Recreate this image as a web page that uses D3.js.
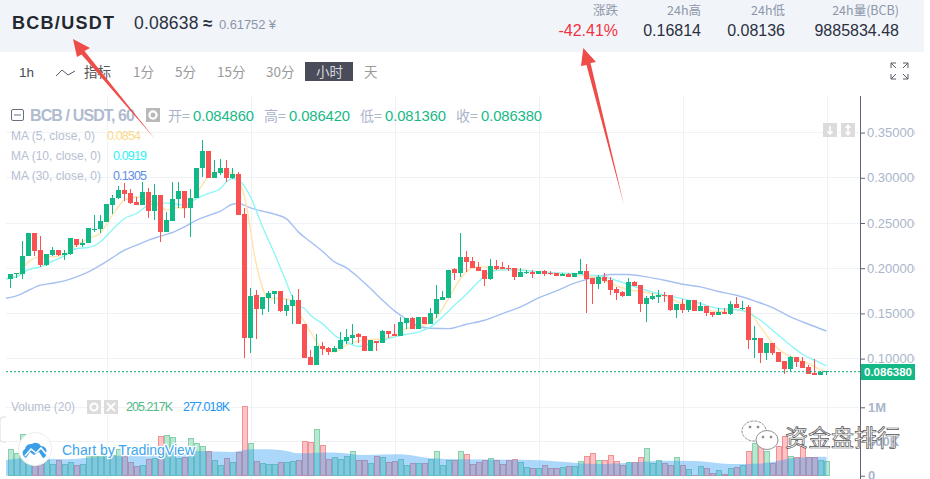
<!DOCTYPE html>
<html><head><meta charset="utf-8">
<script src="https://cdn.jsdelivr.net/npm/d3@7/dist/d3.min.js"></script>
<style>html,body{margin:0;padding:0;background:#fff;overflow:hidden}svg{display:block}text{font-family:"Liberation Sans",Arial,sans-serif}</style>
</head><body><svg id="c" width="930" height="479"></svg>
<script>
// ---- data ----
const opens=[.1882,.1937,.1937,.2140,.2384,.2196,.2033,.2144,.2196,.2151,
.2155,.2328,.2255,.2280,.2432,.2432,.2513,.2697,.2775,.2860,
.2830,.2731,.2697,.2841,.2631,.2808,.2399,.2524,.2764,.2852,
.2664,.2775,.3107,.3295,.3000,.3055,.3107,.2996,.3041,.2598,
.1225,.1701,.1546,.1668,.1716,.1745,.1524,.1579,.1646,.1387,
.1015,.0926,.1137,.1114,.1070,.1103,.1192,.1225,.1269,.1247,
.1081,.1199,.1170,.1303,.1277,.1255,.1391,.1446,.1325,.1458,
.1380,.1491,.1646,.1668,.1989,.1945,.2122,.2077,.2011,.1978,
.1878,.2022,.2011,.2007,.2000,.1900,.1948,.1956,.1934,.1967,
.1952,.1945,.1911,.1934,.1900,.1934,.1967,.1889,.1823,.1900,
.1867,.1768,.1734,.1690,.1845,.1812,.1601,.1657,.1679,.1701,
.1701,.1535,.1601,.1535,.1646,.1524,.1579,.1513,.1480,.1513,
.1491,.1601,.1557,.1568,.1203,.1225,.1059,.1170,.1070,.0970,
.0882,.1015,.0970,.0904,.0838,.0816,.08486];
const highs=[.1941,.1945,.2299,.2384,.2384,.2354,.2162,.2229,.2196,.2196,
.2339,.2328,.2328,.2450,.2590,.2590,.2708,.2808,.2908,.2937,
.2878,.2790,.2952,.2882,.2930,.2808,.2627,.2956,.2956,.2852,
.2871,.3107,.3417,.3295,.3196,.3203,.3196,.3111,.3066,.2661,
.1782,.1756,.1679,.1745,.1745,.1745,.1664,.1701,.1775,.1387,
.1100,.1277,.1181,.1129,.1144,.1299,.1325,.1380,.1284,.1247,
.1203,.1199,.1314,.1303,.1380,.1458,.1446,.1458,.1458,.1458,
.1557,.1812,.1745,.1985,.2004,.2387,.2188,.2122,.2066,.1978,
.2100,.2089,.2066,.2033,.2000,.2000,.1978,.1978,.1967,.1978,
.1967,.1945,.1945,.1945,.1945,.2100,.2044,.1889,.1923,.1945,
.1900,.1790,.1745,.1889,.1856,.1812,.1690,.1723,.1756,.1734,
.1701,.1601,.1657,.1646,.1646,.1624,.1579,.1513,.1557,.1557,
.1635,.1679,.1635,.1590,.1358,.1225,.1170,.1170,.1070,.0970,
.1026,.1015,.1015,.0926,.0993,.0860,.08642];
const lows=[.1786,.1897,.1886,.2140,.2140,.2011,.2026,.2133,.2133,.2092,
.2144,.2229,.2229,.2277,.2402,.2391,.2513,.2605,.2771,.2738,
.2712,.2697,.2697,.2550,.2531,.2288,.2399,.2524,.2661,.2550,
.2343,.2775,.3011,.2996,.3000,.3026,.2956,.2982,.2587,.1004,
.1059,.1214,.1480,.1517,.1601,.1517,.1469,.1380,.1380,.1007,
.0926,.0926,.1037,.1041,.1070,.1103,.1159,.1159,.1173,.1081,
.1081,.1081,.1170,.1225,.1247,.1255,.1325,.1325,.1325,.1380,
.1380,.1446,.1646,.1668,.1867,.1900,.1963,.2000,.1967,.1801,
.1867,.1978,.1989,.1967,.1867,.1900,.1934,.1889,.1934,.1911,
.1923,.1911,.1911,.1900,.1900,.1934,.1502,.1601,.1768,.1834,
.1701,.1646,.1679,.1690,.1801,.1513,.1402,.1646,.1613,.1624,
.1524,.1446,.1502,.1513,.1524,.1524,.1469,.1458,.1480,.1491,
.1480,.1557,.1535,.1103,.1004,.0948,.0982,.1037,.0959,.0827,
.0860,.0904,.0893,.0827,.0816,.0816,.08136];
const closes=[.1941,.1945,.2140,.2384,.2192,.2033,.2155,.2196,.2148,.2166,
.2332,.2255,.2284,.2443,.2439,.2520,.2708,.2782,.2860,.2819,
.2723,.2697,.2841,.2631,.2808,.2402,.2531,.2771,.2852,.2664,
.2782,.3107,.3295,.2996,.3066,.3107,.2996,.3041,.2587,.1225,
.1697,.1546,.1679,.1723,.1745,.1524,.1590,.1646,.1380,.1007,
.0926,.1137,.1103,.1070,.1114,.1203,.1236,.1266,.1236,.1081,
.1203,.1170,.1303,.1269,.1255,.1402,.1446,.1325,.1458,.1380,
.1502,.1657,.1679,.1985,.1945,.2122,.2066,.2000,.1967,.1878,
.2022,.1996,.1989,.1989,.1900,.1956,.1956,.1934,.1967,.1934,
.1934,.1911,.1934,.1900,.1945,.1967,.1878,.1823,.1900,.1856,
.1756,.1723,.1690,.1845,.1801,.1601,.1668,.1690,.1701,.1694,
.1535,.1601,.1535,.1646,.1524,.1579,.1502,.1480,.1513,.1491,
.1601,.1557,.1565,.1203,.1225,.1059,.1170,.1059,.0959,.0882,
.1015,.0959,.0893,.0827,.0816,.0849,.08638];
const volumes=[385,327,605,254,205,161,229,171,229,171,
195,151,171,278,288,278,288,298,376,278,
195,137,151,244,254,576,590,561,254,263,
546,473,424,351,229,146,254,195,341,1015,
473,210,180,171,166,195,195,210,229,498,
488,678,444,239,268,239,288,356,229,229,
180,288,268,200,210,239,151,180,180,180,
239,356,156,229,229,356,312,171,200,229,
254,215,171,215,244,200,122,107,107,151,
98,112,122,141,137,210,288,327,229,224,
298,210,156,195,190,268,400,180,224,180,
156,268,156,93,10,137,98,34,78,20,
107,127,151,356,473,424,351,180,434,580,
288,268,424,268,259,229,205.217];
const ma5Idx=[-1,1,2,3,5,7,9,11,13,15,17,19,21,23,25,26,28,29,31,33,35,37,38,39,41,43,45,47,48,49,50,52,54,56,58,60,62,64,66,68,71,73,75,77,79,81,84,88,92,94,96,98,100,103,106,109,112,115,118,121,123,125,127,129,131,133,135,136];
const ma5=[.1882,.1911,.1996,.2070,.2125,.2125,.2155,.2255,.2328,.2391,.2587,.2753,.2790,.2753,.2686,.2642,.2672,.2661,.2827,.3011,.3077,.3048,.2974,.2790,.2033,.1664,.1664,.1646,.1517,.1406,.1295,.1111,.1074,.1148,.1196,.1210,.1221,.1258,.1332,.1351,.1461,.1664,.1886,.2004,.2015,.1978,.1989,.1959,.1941,.1934,.1911,.1897,.1830,.1764,.1731,.1694,.1609,.1565,.1517,.1542,.1517,.1351,.1173,.1055,.1000,.0945,.0878,.0854];
const ma10Idx=[-1,1,3,5,7,9,11,13,15,17,19,21,23,25,27,29,31,33,35,36,37,38,40,42,44,46,47,48,49,50,52,54,56,58,60,62,64,66,68,70,72,74,76,78,80,82,85,88,91,94,96,98,100,103,106,109,112,115,118,121,123,125,128,130,132,134,136];
const ma10=[.1878,.1904,.1985,.2015,.2077,.2137,.2218,.2229,.2292,.2428,.2550,.2605,.2697,.2723,.2716,.2697,.2771,.2827,.2882,.2956,.2993,.2974,.2790,.2458,.2162,.1840,.1680,.1579,.1554,.1480,.1387,.1258,.1185,.1133,.1166,.1203,.1240,.1269,.1292,.1351,.1461,.1590,.1712,.1849,.1959,.1982,.1978,.1959,.1948,.1941,.1926,.1919,.1886,.1819,.1756,.1701,.1664,.1609,.1554,.1542,.1509,.1424,.1258,.1148,.1048,.0982,.0919];
const ma30Idx=[-1,1,3,5,7,9,11,13,15,17,19,21,23,25,27,29,31,33,35,37,38,40,42,44,46,48,50,52,54,56,58,60,62,64,66,68,70,73,76,79,82,85,88,91,94,96,98,100,103,106,109,112,115,118,121,124,127,130,133,136];
const ma30=[.1664,.1694,.1756,.1812,.1834,.1860,.1904,.1959,.2033,.2118,.2199,.2255,.2310,.2354,.2395,.2458,.2531,.2583,.2631,.2708,.2716,.2668,.2631,.2598,.2546,.2399,.2292,.2188,.2070,.2004,.1897,.1775,.1646,.1528,.1435,.1358,.1336,.1332,.1380,.1424,.1498,.1572,.1672,.1749,.1835,.1875,.1911,.1930,.1930,.1904,.1867,.1823,.1793,.1742,.1701,.1638,.1565,.1461,.1380,.1305];
const volMaIdx=[-1,3,9,15,21,26,31,37,40,43,46,48,51,54,59,65,70,75,87,92,98,103,109,114,120,125,131,136];
const volMa=[229,254,239,278,302,337,361,346,385,385,361,327,337,341,302,312,254,239,229,205,171,190,220,215,171,180,263,277.018];
const priceTicks=[.10,.15,.20,.25,.30,.35];
const volTicks=[0,500,1000];
const lastPrice=.08638;
const timeGridIdx=[16,40,64,88,112,136];
const intervals=["1分","5分","15分","30分","小时","天"];
const legendOHLC=[["开=","0.084860"],["高=","0.086420"],["低=","0.081360"],["收=","0.086380"]];
const maLegend=[["MA (5, close, 0)","0.0854","#fcd98a"],["MA (10, close, 0)","0.0919","#2ff2f2"],["MA (30, close, 0)","0.1305","#5f8fe6"]];
const stats=[["涨跌","-42.41%"],["24h高","0.16814"],["24h低","0.08136"],["24h量(BCB)","9885834.48"]];

// ---- scales ----
const UP="#12b886",DOWN="#fa5252",GRID="#f0f2f5",AXIS="#5d6478",LABEL="#aab5ca";
const x=d3.scaleLinear().domain([0,136]).range([10.5,826.5]);
const y=d3.scaleLinear().domain([.10,.35]).range([358.6,132.6]);
const yv=d3.scaleLinear().domain([0,1000]).range([475.7,407.3]);
const svg=d3.select("#c");
const T=(s,tx,ty,o={})=>{const t=svg.append("text").attr("x",tx).attr("y",ty).text(s)
 .attr("font-size",o.size||13).attr("fill",o.fill||"#333");
 if(o.anchor)t.attr("text-anchor",o.anchor);if(o.weight)t.attr("font-weight",o.weight);
 if(o.family)t.style("font-family",o.family);if(o.ls)t.attr("letter-spacing",o.ls);return t;};
const CJK='"Noto Sans CJK SC","Liberation Sans",sans-serif';
const defs=svg.append("defs");
defs.append("clipPath").attr("id","plot").append("rect").attr("x",6).attr("y",96).attr("width",855).attr("height",383);
defs.append("clipPath").attr("id","ax").append("rect").attr("x",861).attr("y",96).attr("width",54).attr("height",383);

// ---- header ----
svg.append("rect").attr("width",924).attr("height",52).attr("fill","#f1f5fa");
T("BCB/USDT",12,29,{size:18,weight:"bold",fill:"#23272f"}).attr("textLength",102);
T("0.08638",134,29,{size:17.5,fill:"#2b3040",ls:.2});
T("≈",203,29,{size:17,fill:"#2b3040",weight:"bold"});
T("0.61752 ¥",219,29,{size:13,fill:"#8d95a8"}).attr("textLength",57);
const statX=[618,701,785,899];
stats.forEach((s,i)=>{
 T(s[0],statX[i],15,{size:12.5,fill:"#8d95a8",anchor:"end",family:CJK});
 T(s[1],statX[i],36,{size:16,fill:i==0?"#f2323f":"#2b3040",anchor:"end"});
});

// ---- toolbar ----
T("1h",19,77,{size:13.5,fill:"#4a4c5a"});
svg.append("path").attr("d","M56 76 L62 70 L68 75 L75 71").attr("fill","none").attr("stroke","#555a68").attr("stroke-width",1);
T("指标",84,77,{size:13.5,fill:"#555",family:CJK});
const ivX=[133,175,217,266,316,364];
svg.append("rect").attr("x",305).attr("y",62).attr("width",48).attr("height",19).attr("fill","#4a4c5a");
intervals.forEach((s,i)=>T(s,ivX[i],77,{size:13.5,fill:i==4?"#d4d6dc":"#9a9a9a",family:CJK}));
svg.append("path").attr("fill","none").attr("stroke","#555a68").attr("stroke-width",1)
 .attr("d","M891 63h5M891 63v5M891 63l5 5M908 63h-5M908 63v5M908 63l-5 5M891 79h5M891 79v-5M891 79l5 -5M908 79h-5M908 79v-5M908 79l-5 -5");

// ---- grid ----
const g=svg.append("g").attr("shape-rendering","crispEdges");
priceTicks.forEach(v=>g.append("line").attr("x1",6).attr("x2",861).attr("y1",y(v)).attr("y2",y(v)).attr("stroke",GRID));
volTicks.slice(1).forEach(v=>g.append("line").attr("x1",6).attr("x2",861).attr("y1",yv(v)).attr("y2",yv(v)).attr("stroke",GRID));
timeGridIdx.forEach(i=>g.append("line").attr("x1",x(i)+1).attr("x2",x(i)+1).attr("y1",96).attr("y2",479).attr("stroke",GRID));

// ---- volume pane ----
const plot=svg.append("g").attr("clip-path","url(#plot)");
plot.append("g").attr("shape-rendering","crispEdges").selectAll("rect").data(volumes).join("rect")
 .attr("x",(d,i)=>x(i)-2.5).attr("width",5).attr("y",d=>yv(d)).attr("height",d=>yv(0)-yv(d))
 .attr("fill",(d,i)=>closes[i]>=opens[i]?"#b9e7d2":"#ffc3c6")
 .attr("stroke",(d,i)=>closes[i]>=opens[i]?"#86d1ad":"#f09196");
plot.append("path").attr("fill","#2196f3").attr("fill-opacity",.38)
 .attr("d",d3.area().curve(d3.curveMonotoneX).x((d,i)=>x(volMaIdx[i])).y0(yv(0)).y1(d=>yv(d))(volMa));

// ---- MA lines ----
const maLine=(idx,vals,col)=>plot.append("path").attr("fill","none").attr("stroke",col).attr("stroke-width",1.4)
 .attr("d",d3.line().curve(d3.curveMonotoneX).x((d,i)=>x(idx[i])).y(d=>y(d))(vals));
maLine(ma30Idx,ma30,"#a6c0f2");
maLine(ma5Idx,ma5,"#ffe4ab");
maLine(ma10Idx,ma10,"#8ff6f6");

// ---- candles ----
const cg=plot.append("g").attr("shape-rendering","crispEdges");
opens.forEach((o,i)=>{
 const c=closes[i],col=c>=o?UP:DOWN,top=Math.max(o,c),bot=Math.min(o,c);
 cg.append("rect").attr("x",x(i)-.5).attr("width",1).attr("y",y(highs[i])).attr("height",y(lows[i])-y(highs[i])).attr("fill",col);
 cg.append("rect").attr("x",x(i)-2.5).attr("width",5).attr("y",y(top)).attr("height",Math.max(1,y(bot)-y(top))).attr("fill",col);
});
plot.append("line").attr("x1",6).attr("x2",861).attr("y1",y(lastPrice)+.8).attr("y2",y(lastPrice)+.8)
 .attr("stroke","#12a67c").attr("stroke-dasharray","2 2");

// ---- axes ----
svg.append("line").attr("x1",860.5).attr("x2",860.5).attr("y1",96).attr("y2",479).attr("stroke",AXIS);
const axG=svg.append("g").attr("clip-path","url(#ax)");
const styleAxis=(s,w)=>{s.select(".domain").remove();
 s.selectAll("line").attr("stroke",AXIS);
 s.selectAll("text").attr("fill",LABEL).attr("font-size",13).attr("font-weight",w).style("font-family",'"Liberation Sans",Arial,sans-serif');};
axG.append("g").attr("transform","translate(861,0)")
 .call(d3.axisRight(y).tickValues(priceTicks).tickSize(4).tickPadding(2).tickFormat(d3.format(".6f"))).call(styleAxis,"normal");
axG.append("g").attr("transform","translate(861,0)")
 .call(d3.axisRight(yv).tickValues(volTicks).tickSize(4).tickPadding(3).tickFormat(d=>d==0?"0":d==1000?"1M":d+"K")).call(styleAxis,"bold");
svg.append("rect").attr("x",861).attr("y",364).attr("width",54).attr("height",16).attr("fill","#12b886");
T("0.086380",888,376,{size:11.5,fill:"#fff",anchor:"middle",weight:"bold"});

// ---- chart legend ----
svg.append("rect").attr("x",11.5).attr("y",109.5).attr("width",12).attr("height",11).attr("rx",1.5).attr("fill","none").attr("stroke","#6b7080");
svg.append("line").attr("x1",14).attr("x2",21).attr("y1",115).attr("y2",115).attr("stroke","#6b7080");
T("BCB / USDT, 60",30,121,{size:16,fill:"#b0bbcf",weight:"bold"}).attr("textLength",105);
svg.append("rect").attr("x",146).attr("y",108).attr("width",14).attr("height",14).attr("fill","#b9b9b9");
svg.append("circle").attr("cx",153).attr("cy",115).attr("r",3.6).attr("fill","none").attr("stroke","#fff").attr("stroke-width",2.2);
const legX=[168,264,360,456];
legendOHLC.forEach((d,i)=>{
 T(d[0],legX[i],121,{size:14,fill:"#aab5ca",family:CJK});
 T(d[1],legX[i]+25,121,{size:14.8,fill:"#18b987"}).attr("textLength",61);
});
const maLegendW=[84,90,90];
maLegend.forEach((d,i)=>{
 T(d[0],11,140+i*20,{size:12,fill:"#b7c0d2"}).attr("textLength",maLegendW[i]);
 T(d[1],i==0?107:113,140+i*20,{size:12.5,fill:d[2]}).attr("textLength",34);
});
[823,841].forEach((px,i)=>{
 svg.append("rect").attr("x",px).attr("y",123).attr("width",14).attr("height",14).attr("fill","#dcdcdc");
 svg.append("path").attr("stroke","#fff").attr("stroke-width",1.6).attr("fill","none")
  .attr("d",i==0?`M${px+7} 126V134M${px+4.5} 131.5L${px+7} 134L${px+9.5} 131.5`:`M${px+7} 125.5V134.5M${px+4.5} 128L${px+7} 125.5L${px+9.5} 128M${px+4.5} 132L${px+7} 134.5L${px+9.5} 132`);
});

// ---- volume legend ----
T("Volume (20)",11,411,{size:12,fill:"#b7c0d2"}).attr("textLength",64);
[87,104].forEach((px,i)=>{
 svg.append("rect").attr("x",px).attr("y",400).attr("width",14).attr("height",14).attr("fill","#dcdcdc");
 if(i==0)svg.append("circle").attr("cx",px+7).attr("cy",407).attr("r",3.5).attr("fill","none").attr("stroke","#fff").attr("stroke-width",2);
 else svg.append("path").attr("d",`M${px+3} 403L${px+11} 411M${px+11} 403L${px+3} 411`).attr("stroke","#fff").attr("stroke-width",1.8);
});
T("205.217K",126,411,{size:12.5,fill:"#53b987"}).attr("textLength",47);
T("277.018K",183,411,{size:12.5,fill:"#2196f3"}).attr("textLength",47);

// ---- TradingView badge ----
svg.append("path").attr("d","M6 417H3a3 3 0 0 0 -3 3v19a3 3 0 0 0 3 3h3").attr("fill","#fff").attr("stroke","#dcdcdc");
svg.append("circle").attr("cx",35).attr("cy",449).attr("r",16.5).attr("fill","#fff").attr("stroke","#ececec");
svg.append("path").attr("fill","#3b9fe8").attr("d","M26 458a5 5 0 0 1 -1 -9a6 6 0 0 1 7 -5a6 6 0 0 1 9 2a5 5 0 0 1 5 7a4 4 0 0 1 -3 5l-4 -6l-5 3l-4 -3z");
svg.append("path").attr("fill","none").attr("stroke","#fff").attr("stroke-width",1.6).attr("d","M25 456L31 449L36 453L41 448L46 454");
T("Chart by TradingView",62,455,{size:14.2,fill:"#3da4ee"}).attr("stroke","#fff").attr("stroke-width",2.5).attr("paint-order","stroke").attr("textLength",133);

// ---- annotation arrows and watermark ----
svg.append("path").attr("fill","#ee4c49").attr("d","M73 39L90 48L84.5 51L155 139L81.5 54.5L77 57Z");
svg.append("path").attr("fill","#ee4c49").attr("d","M583.3 48L596 62L590.5 63L624 205L586.5 65L581 66Z");
const wm=svg.append("g").attr("fill","#fff").attr("stroke","#777").attr("stroke-width",.8);
wm.append("ellipse").attr("cx",754).attr("cy",431).attr("rx",12).attr("ry",10).attr("stroke-dasharray","3 1");
wm.append("ellipse").attr("cx",767).attr("cy",440).attr("rx",11).attr("ry",9.5);
wm.append("circle").attr("cx",750).attr("cy",427).attr("r",1).attr("fill","#999");
wm.append("circle").attr("cx",758).attr("cy",427).attr("r",1).attr("fill","#999");
wm.append("circle").attr("cx",763).attr("cy",437).attr("r",1).attr("fill","#ee8888");
wm.append("circle").attr("cx",771).attr("cy",437).attr("r",1).attr("fill","#ee8888");
T("资金盘排行",785,446,{size:23,fill:"#fff",family:CJK}).attr("stroke","#555").attr("stroke-width",.7);
</script></body></html>
